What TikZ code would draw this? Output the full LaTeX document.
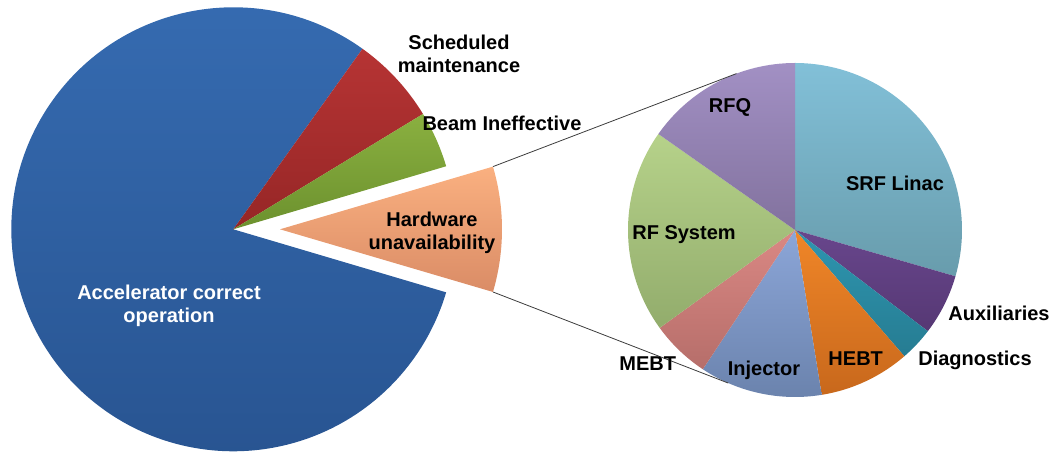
\documentclass[tikz,border=0pt]{standalone}
\usepackage{fontspec}
\setmainfont{Liberation Sans}
\definecolor{blueT}{RGB}{54,108,178}
\definecolor{blueB}{RGB}{40,84,145}
\definecolor{redT}{RGB}{182,52,52}
\definecolor{redB}{RGB}{150,38,38}
\definecolor{greenT}{RGB}{138,176,64}
\definecolor{greenB}{RGB}{108,145,46}
\definecolor{hwT}{RGB}{250,176,128}
\definecolor{hwB}{RGB}{218,140,102}
\definecolor{srfT}{RGB}{130,192,216}
\definecolor{srfB}{RGB}{104,156,172}
\definecolor{auxT}{RGB}{104,70,140}
\definecolor{auxB}{RGB}{86,56,116}
\definecolor{diaT}{RGB}{46,150,176}
\definecolor{diaB}{RGB}{38,124,146}
\definecolor{hebT}{RGB}{240,134,40}
\definecolor{hebB}{RGB}{200,104,28}
\definecolor{injT}{RGB}{140,166,216}
\definecolor{injB}{RGB}{106,130,172}
\definecolor{mebT}{RGB}{218,136,132}
\definecolor{mebB}{RGB}{182,110,106}
\definecolor{rfsT}{RGB}{182,210,138}
\definecolor{rfsB}{RGB}{146,172,108}
\definecolor{rfqT}{RGB}{162,144,196}
\definecolor{rfqB}{RGB}{130,114,158}
\definecolor{connc}{RGB}{60,60,60}
% center, radius, start angle, end angle, top colour, bottom colour
\newcommand\mypieslice[6]{%
  \shade[top color=#5, bottom color=#6] (#1) -- ++(#3:#2) arc[start angle=#3, end angle=#4, radius=#2] -- cycle;}
\begin{document}
\begin{tikzpicture}[x=1pt,y=1pt,
  lbl/.style={font=\fontsize{20}{23}\selectfont\bfseries, inner sep=0pt, align=center, text=black},
  conn/.style={draw=connc, line width=0.8pt}]
\useasboundingbox (0,0) rectangle (1055,452);
\coordinate (L) at (233.3,222.7);
\coordinate (Le) at (280,222.7);
\coordinate (R) at (795,222);
% left pie
\mypieslice{L}{222}{54.4}{343.5}{blueT}{blueB}
\mypieslice{L}{222}{31.3}{54.4}{redT}{redB}
\mypieslice{L}{222}{16.5}{31.3}{greenT}{greenB}
\mypieslice{Le}{222}{-16.4}{16.4}{hwT}{hwB}
% right pie
\mypieslice{R}{167}{-16.1}{90}{srfT}{srfB}
\mypieslice{R}{167}{-37.3}{-16.1}{auxT}{auxB}
\mypieslice{R}{167}{-49.1}{-37.3}{diaT}{diaB}
\mypieslice{R}{167}{-80.8}{-49.1}{hebT}{hebB}
\mypieslice{R}{167}{-123.5}{-80.8}{injT}{injB}
\mypieslice{R}{167}{-144.1}{-123.5}{mebT}{mebB}
\mypieslice{R}{167}{144.9}{215.9}{rfsT}{rfsB}
\mypieslice{R}{167}{90}{144.9}{rfqT}{rfqB}
% connectors
\path (Le) ++(16.4:222) coordinate (hwU);
\path (Le) ++(-16.4:222) coordinate (hwD);
\path (R) ++(110.5:167) coordinate (subU);
\path (R) ++(-113.6:167) coordinate (subD);
\draw[conn] (hwU) -- (subU);
\draw[conn] (hwD) -- (subD);
% labels left
\node[lbl] (sched) at (459,398) {Scheduled\\maintenance};
\node[lbl, anchor=base] (beam) at (502,321.8) {Beam Ineffective};
\node[lbl] (hw) at (432,219.5) {Hardware\\unavailability};
\node[lbl, text=white] (acc) at (169,146.5) {Accelerator correct\\operation};
% labels right
\node[lbl, anchor=base] (rfq) at (730,339.8) {RFQ};
\node[lbl, anchor=base] (srf) at (895,261.8) {SRF Linac};
\node[lbl, anchor=base] (rfs) at (684,212.1) {RF System};
\node[lbl, anchor=base] (aux) at (999,131.8) {Auxiliaries};
\node[lbl, anchor=base] (diag) at (975,86.8) {Diagnostics};
\node[lbl, anchor=base] (hebt) at (855.7,86.8) {HEBT};
\node[lbl, anchor=base] (inj) at (764,76.8) {Injector};
\node[lbl, anchor=base] (mebt) at (647.7,81.8) {MEBT};
\end{tikzpicture}
\end{document}
